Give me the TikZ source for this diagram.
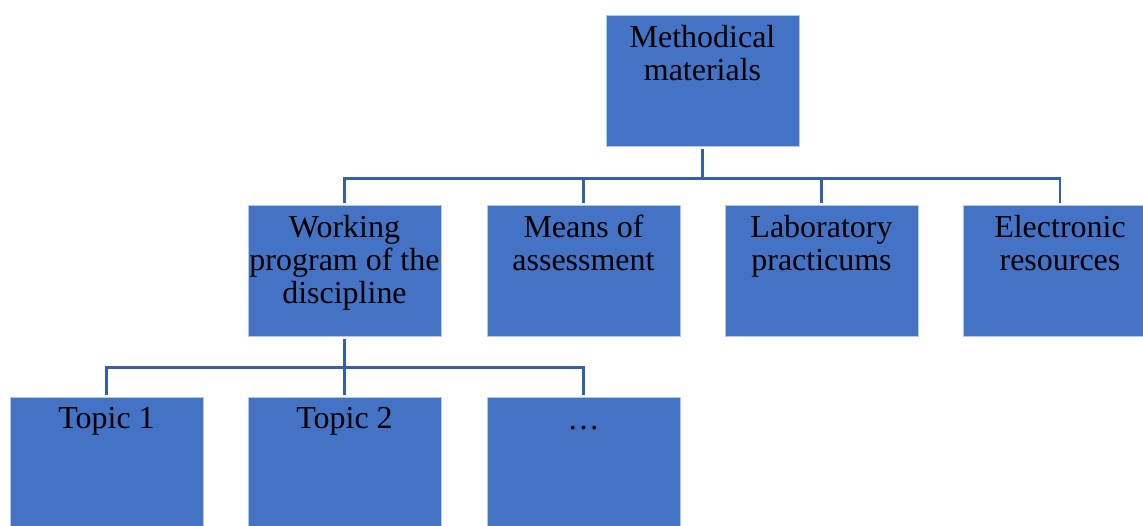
\documentclass[tikz,border=0pt]{standalone}
\usepackage{fontspec}
\setmainfont{Liberation Serif}
\usepackage{tikz}
\usetikzlibrary{positioning}

\definecolor{boxblue}{HTML}{4472C4}
\definecolor{boxedge}{HTML}{B4C7E7}
\definecolor{linkblue}{HTML}{3460A8}

\tikzset{
  box/.style={draw=boxedge, line width=0.4pt, fill=boxblue, minimum width=3.86cm, minimum height=2.62cm, inner sep=0pt},
  txt/.style={anchor=north, align=center, inner sep=0pt, yshift=-0.2cm, font=\fontsize{18.2}{18.8}\selectfont},
  link/.style={draw=linkblue, line width=1.6pt}
}

\begin{document}
\begin{tikzpicture}[x=0.02cm, y=-0.02cm]

\useasboundingbox (0,0) rectangle (1143,525);
\clip (0,0) rectangle (1143,525);

% nodes
\node[box, label={[txt]north:Methodical\\materials}] (MM) at (702.5, 80.5) {};

\node[box, label={[txt]north:Working\\program of the\\discipline}] (WP) at (344.5, 270.5) {};
\node[box, label={[txt]north:Means of\\assessment}] (MA) at (583.5, 270.5) {};
\node[box, label={[txt]north:Laboratory\\practicums}] (LP) at (821.5, 270.5) {};
\node[box, label={[txt]north:Electronic\\resources}] (ER) at (1060, 270.5) {};

\node[box, label={[txt]north:Topic 1}] (T1) at (106.5, 462.5) {};
\node[box, label={[txt]north:Topic 2}] (T2) at (344.5, 462.5) {};
\node[box, label={[txt]north:\vphantom{Tl}…}] (T3) at (583.5, 462.5) {};


% lines
\draw [link] ([yshift=-0.06cm]MM.south) -- ++(0,29) -| ([yshift=0.04cm]WP.north);
\draw [link] ([yshift=-0.06cm]MM.south) -- ++(0,29) -| ([yshift=0.04cm]MA.north);
\draw [link] ([yshift=-0.06cm]MM.south) -- ++(0,29) -| ([yshift=0.04cm]LP.north);
\draw [link] ([yshift=-0.06cm]MM.south) -- ++(0,29) -| ([yshift=0.04cm]ER.north);

\draw [link] ([yshift=-0.06cm]WP.south) -- ++(0,28) -| ([yshift=0.04cm]T1.north);
\draw [link] ([yshift=-0.06cm]WP.south) -- ++(0,28) -| ([yshift=0.04cm]T2.north);
\draw [link] ([yshift=-0.06cm]WP.south) -- ++(0,28) -| ([yshift=0.04cm]T3.north);


\end{tikzpicture}
\end{document}
